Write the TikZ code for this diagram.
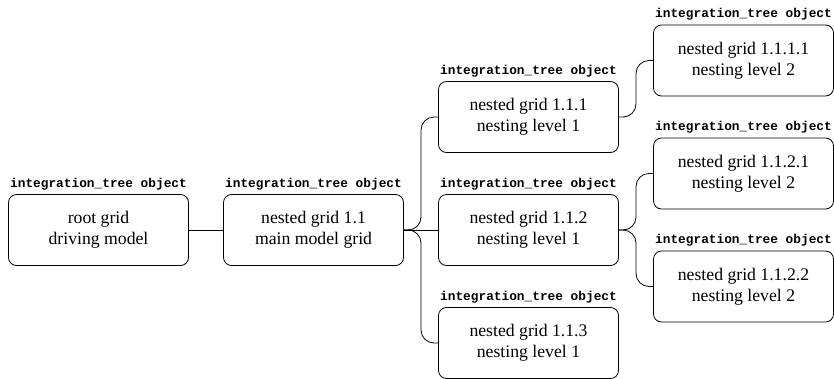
\documentclass[tikz,border=0pt]{standalone}
\usepackage{fontspec}
\setmainfont{Liberation Serif}
\setmonofont{Liberation Mono}
\usetikzlibrary{trees,calc}

\begin{document}
\begin{tikzpicture}[x=1pt,y=1pt,grow'=right,level distance=215pt,
                   curved/.style={edge from parent path={(\tikzparentnode.east) -| ($(\tikzparentnode.east)!0.5!(\tikzchildnode.west)$) |- (\tikzchildnode.west)}},
                   straight/.style={edge from parent path={(\tikzparentnode.east) -- (\tikzchildnode.west)}},
                   level 1/.style={sibling distance=113pt,straight},
                   level 2/.style={sibling distance=113pt,curved},
                   level 3/.style={sibling distance=113pt,curved},
                   gridbox/.style={draw,line width=0.8pt,rounded corners=8pt,minimum width=180pt,minimum height=71pt,
                     align=center,font=\fontsize{17.7}{21}\selectfont,
                     label={[font=\ttfamily\bfseries\fontsize{12.8}{14}\selectfont,inner sep=0pt,label distance=4pt]above:integration\_tree object}},
                   edge from parent/.style={draw,line width=0.8pt,rounded corners=13pt}]
\useasboundingbox (0,0) rectangle (834,-378);
\node[gridbox] (root) at (98.5,-230) {root grid\\driving model}
child {node[gridbox] (n11) {nested grid 1.1\\main model grid}
  child {node[gridbox] (n111) {nested grid 1.1.1\\nesting level 1}
    child {node[gridbox] (n1111) {nested grid 1.1.1.1\\nesting level 2}}
    child[missing]}
  child[straight] {node[gridbox] (n112) {nested grid 1.1.2\\nesting level 1}
    child {node[gridbox] (n1121) {nested grid 1.1.2.1\\nesting level 2}}
    child {node[gridbox] (n1122) {nested grid 1.1.2.2\\nesting level 2}}}
  child {node[gridbox] (n113) {nested grid 1.1.3\\nesting level 1}}
};
\end{tikzpicture}
\end{document}
